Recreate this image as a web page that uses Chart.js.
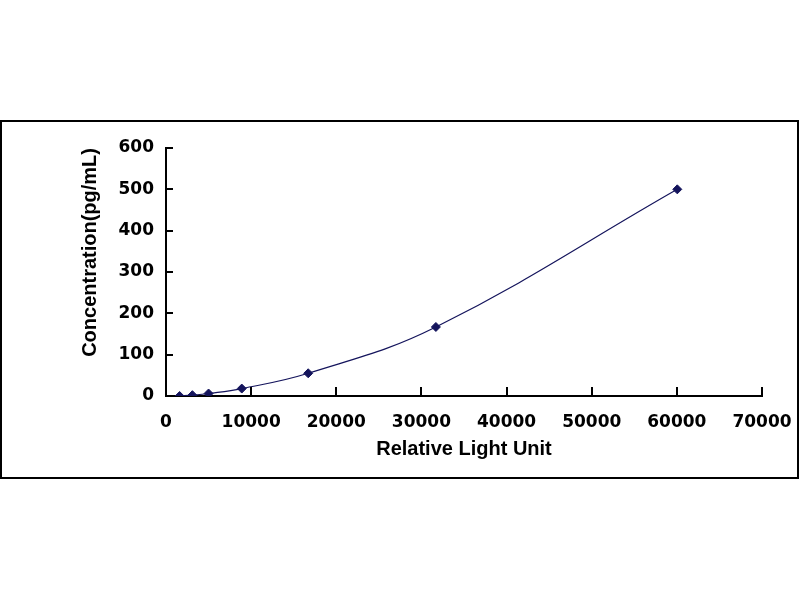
<!DOCTYPE html>
<html>
<head>
<meta charset="utf-8">
<script src="https://cdn.jsdelivr.net/npm/chart.js@4/dist/chart.umd.min.js"></script>
<style>
  html, body { margin: 0; padding: 0; background: #fff; }
  #frame { position: absolute; left: 0px; top: 120px; width: 799px; height: 359px; box-sizing: border-box; border: 2px solid #000; }
  #wrap { position: absolute; left: 0; top: 0; width: 800px; height: 600px; }
</style>
</head>
<body>
<div id="frame"></div>
<div id="wrap"><canvas id="c" width="800" height="600"></canvas></div>
<script>
// Data
const rluValues = [1600, 3100, 5000, 8900, 16700, 31700, 60050];
const concValues = [0, 2, 6, 18, 55, 167, 500];
const xTickStep = 10000;
const yTickStep = 100;
const xMax = 70000;
const yMax = 600;
const xTitle = 'Relative Light Unit';
const yTitle = 'Concentration(pg/mL)';

const points = rluValues.map((x, i) => ({ x: x, y: concValues[i] }));
const navy = '#14145c';

const inwardTicks = {
  id: 'inwardTicks',
  afterDraw(chart) {
    const ctx = chart.ctx;
    const xs = chart.scales.x, ys = chart.scales.y;
    const area = chart.chartArea;
    ctx.save();
    ctx.strokeStyle = '#000';
    ctx.lineWidth = 2;
    ctx.beginPath();
    xs.ticks.forEach(t => {
      const px = Math.round(xs.getPixelForValue(t.value));
      ctx.moveTo(px, area.bottom);
      ctx.lineTo(px, area.bottom - 9);
    });
    ys.ticks.forEach(t => {
      const py = Math.round(ys.getPixelForValue(t.value));
      ctx.moveTo(area.left, py);
      ctx.lineTo(area.left + 7, py);
    });
    ctx.stroke();
    ctx.restore();
  }
};

const tickFont = { family: 'DejaVu Sans', size: 17, weight: 'bold' };
const titleFont = { family: 'Liberation Sans', size: 20, weight: 'bold' };

new Chart(document.getElementById('c'), {
  type: 'scatter',
  data: {
    datasets: [{
      data: points,
      showLine: true,
      tension: 0.4,
      borderColor: navy,
      borderWidth: 1.2,
      backgroundColor: navy,
      pointBackgroundColor: navy,
      pointBorderColor: navy,
      pointStyle: 'rectRot',
      pointRadius: 4.5,
      pointBorderWidth: 1
    }]
  },
  options: {
    responsive: false,
    animation: false,
    devicePixelRatio: 1,
    layout: { padding: { left: 78, right: 38, top: 148, bottom: 139 } },
    plugins: { legend: { display: false }, tooltip: { enabled: false } },
    scales: {
      x: {
        type: 'linear',
        min: 0, max: xMax,
        afterFit(scale) {
          scale.height = 65;
          scale.paddingLeft = 0;
          scale.paddingRight = 0;
        },
        grid: { display: false, drawTicks: false },
        border: { display: true, color: '#000', width: 2 },
        ticks: {
          stepSize: xTickStep,
          padding: 16,
          color: '#000',
          maxRotation: 0,
          autoSkip: false,
          callback: v => String(v),
          font: tickFont
        },
        title: {
          display: true,
          text: xTitle,
          color: '#000',
          padding: 0,
          font: titleFont
        }
      },
      y: {
        type: 'linear',
        min: 0, max: yMax,
        afterFit(scale) {
          scale.width = 88;
          scale.paddingTop = 0;
          scale.paddingBottom = 0;
        },
        grid: { display: false, drawTicks: false },
        border: { display: true, color: '#000', width: 2 },
        ticks: {
          stepSize: yTickStep,
          padding: 12,
          color: '#000',
          autoSkip: false,
          callback: v => String(v),
          font: tickFont
        },
        title: {
          display: true,
          text: yTitle,
          align: 'end',
          color: '#000',
          padding: 0,
          font: titleFont
        }
      }
    }
  },
  plugins: [inwardTicks]
});
</script>
</body>
</html>
